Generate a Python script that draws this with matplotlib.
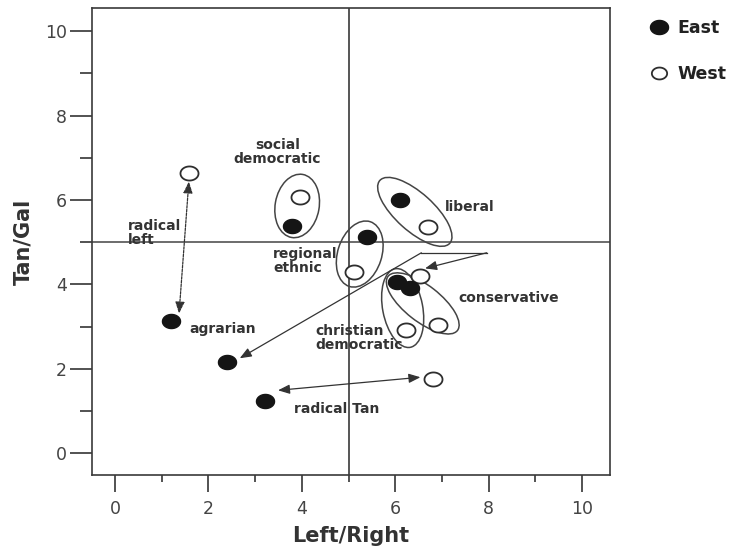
import numpy as np
import matplotlib
matplotlib.use("Agg")
import matplotlib.pyplot as plt
from matplotlib.patches import Ellipse
from matplotlib.path import Path
from matplotlib.lines import Line2D
import matplotlib.transforms as mtransforms

plt.rcParams['font.family'] = ['DejaVu Sans']

# ---------------- data ----------------
east_x = [1.19, 2.39, 3.22, 3.78, 5.40, 6.10, 6.03, 6.31]
east_y = [3.14, 2.15, 1.24, 5.39, 5.13, 5.99, 4.06, 3.91]
west_x = [1.58, 6.81, 3.96, 5.11, 6.71, 6.53, 6.24, 6.92]
west_y = [6.65, 1.76, 6.08, 4.30, 5.37, 4.19, 2.92, 3.04]

labels = ["social\ndemocratic", "radical\nleft", "regional\nethnic", "liberal",
          "conservative", "christian\ndemocratic", "agrarian", "radical Tan"]
label_x = [3.48, 0.27, 3.38, 7.06, 7.36, 4.28, 1.60, 3.83]
label_y = [7.14, 5.22, 4.55, 5.84, 3.68, 2.73, 2.94, 1.04]
label_ha = ["center", "left", "left", "left", "left", "left", "left", "left"]

# party family groupings (centre in data units)
group_cx = [3.90, 5.24, 6.42, 6.16, 6.59]
group_cy = [5.86, 4.72, 5.72, 3.44, 3.55]

# arrows: (x_start, y_start, x_end, y_end)
arrow_x0 = [1.58, 3.49, 6.56, 7.96]
arrow_y0 = [6.44, 1.49, 4.75, 4.75]
arrow_x1 = [1.37, 6.54, 2.67, 6.64]
arrow_y1 = [3.31, 1.80, 2.25, 4.38]
bend_x = [6.56, 7.96]
bend_y = [4.75, 4.75]

x_ticks = [0, 2, 4, 6, 8, 10]
y_ticks = [0, 2, 4, 6, 8, 10]

# ---------------- figure ----------------
fig = plt.figure(figsize=(7.34, 5.48), dpi=100)
ax = fig.add_axes([0.125, 0.133, 0.706, 0.853])
ax.set_xlim(-0.5, 10.6)
ax.set_ylim(-0.52, 10.56)

dark = '#2e2e2e'
txt = '#333333'

ax.axvline(5, color='#555555', lw=1.4, zorder=1)
ax.axhline(5, color='#444444', lw=1.1, zorder=1)

# elliptical markers (slightly wider than tall, as in reference)
t = np.linspace(0, 2 * np.pi, 60)
verts = np.column_stack([np.cos(t), 0.78 * np.sin(t)])
emark = Path(verts, closed=True)

ax.plot(west_x, west_y, linestyle='none', marker=emark, ms=13,
        mfc='white', mec=dark, mew=1.3, zorder=4)
ax.plot(east_x, east_y, linestyle='none', marker=emark, ms=13,
        mfc='#151515', mec='#151515', mew=1.0, zorder=5)

# ellipses around groups, sized in pixels
ell_w = [44, 44, 94, 40, 88]
ell_h = [64, 68, 38, 80, 36]
ell_a = [-10, -18, -42, 11, -38]
for cx, cy, w, h, a in zip(group_cx, group_cy, ell_w, ell_h, ell_a):
    tr = fig.dpi_scale_trans + mtransforms.ScaledTranslation(cx, cy, ax.transData)
    e = Ellipse((0, 0), w / 100.0, h / 100.0, angle=a, transform=tr,
                fill=False, ec='#444444', lw=1.1, zorder=3)
    ax.add_patch(e)

# arrows
styles = ['<|-|>', '<|-|>', '-|>', '-|>']
lss = [(0, (2, 1)), '-', '-', '-']
for x0, y0, x1, y1, st, ls in zip(arrow_x0, arrow_y0, arrow_x1, arrow_y1, styles, lss):
    ax.annotate('', xy=(x1, y1), xytext=(x0, y0),
                arrowprops=dict(arrowstyle=st + ',head_length=0.7,head_width=0.28',
                                color='#333333', lw=0.9, linestyle=ls,
                                shrinkA=0, shrinkB=0), zorder=6)
ax.plot(bend_x, bend_y, color='#333333', lw=0.9, zorder=6)

for s, x, y, ha in zip(labels, label_x, label_y, label_ha):
    ax.text(x, y, s, ha=ha, va='center', fontsize=10, fontweight='bold',
            color=txt, linespacing=1.05, zorder=7)

# axes styling
ax.set_xticks(x_ticks)
ax.set_yticks(y_ticks)
ax.set_xticks([1, 3, 5, 7, 9], minor=True)
ax.set_yticks([1, 3, 5, 7, 9], minor=True)
ax.tick_params(axis='x', which='major', direction='out', length=12, width=1.3,
               color='#444444', labelsize=12.5, labelcolor='#444444', pad=6)
ax.tick_params(axis='x', which='minor', direction='out', length=5, width=1.3,
               color='#444444')
ax.tick_params(axis='y', which='major', direction='out', length=16, width=1.3,
               color='#444444', labelsize=12.5, labelcolor='#444444', pad=2)
ax.tick_params(axis='y', which='minor', direction='out', length=8.5, width=1.3,
               color='#444444')
for sp in ax.spines.values():
    sp.set_color('#3a3a3a')
    sp.set_linewidth(1.2)

ax.set_xlabel('Left/Right', fontsize=15, fontweight='bold', color=txt, labelpad=6)
ax.set_ylabel('Tan/Gal', fontsize=15, fontweight='bold', color=txt, labelpad=8)

# legend
h_e = Line2D([], [], linestyle='none', marker=emark, ms=13, mfc='#151515', mec='#151515')
h_w = Line2D([], [], linestyle='none', marker=emark, ms=11, mfc='white', mec=dark, mew=1.3)
leg = ax.legend([h_e, h_w], ['East', 'West'], loc='upper left',
                bbox_to_anchor=(1.064, 0.99), frameon=False,
                prop={'size': 12.5, 'weight': 'bold'}, labelspacing=1.6,
                handlelength=1.0, handletextpad=0.6, borderaxespad=0)
for tx in leg.get_texts():
    tx.set_color('#222222')

fig.savefig('out.png', dpi=100)
